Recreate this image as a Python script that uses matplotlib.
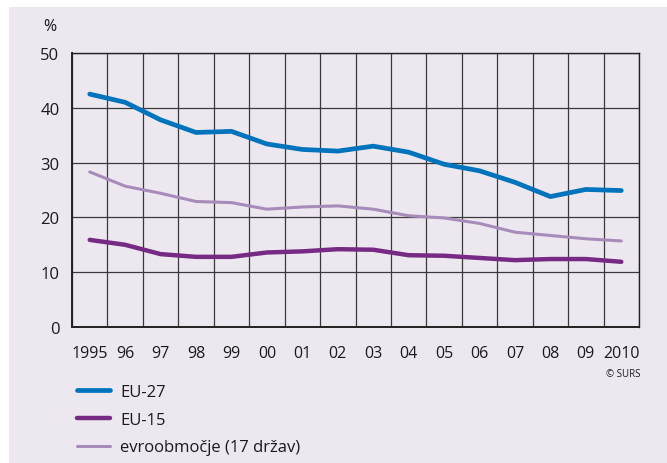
import numpy as np
import matplotlib.pyplot as plt
from matplotlib.patches import Rectangle

# leta in vrednosti (%)
leta = ['1995', '96', '97', '98', '99', '00', '01', '02', '03', '04',
        '05', '06', '07', '08', '09', '2010']
eu27 = [42.5, 41.0, 37.8, 35.5, 35.7, 33.4, 32.4, 32.1, 33.0, 31.9,
        29.7, 28.5, 26.4, 23.8, 25.1, 24.9]
eu15 = [15.9, 15.0, 13.3, 12.8, 12.8, 13.6, 13.8, 14.2, 14.1, 13.1,
        13.0, 12.6, 12.2, 12.4, 12.4, 11.9]
evro = [28.3, 25.7, 24.4, 22.9, 22.7, 21.5, 21.9, 22.1, 21.5, 20.3,
        19.9, 18.9, 17.3, 16.7, 16.1, 15.7]

ozadje = '#ede8f0'
plt.rcParams['font.family'] = ['Open Sans', 'DejaVu Sans']

fig = plt.figure(figsize=(6.67, 4.64), dpi=100, facecolor='white')
fig.patches.append(Rectangle((9 / 667, 0), 1, 456 / 464, transform=fig.transFigure,
                             facecolor=ozadje, edgecolor='none', zorder=-10))

ax = fig.add_axes([72 / 667, 1 - 328 / 464, 567 / 667, 274 / 464])
ax.set_facecolor(ozadje)

x = np.arange(len(leta))
ax.plot(x, eu27, color='#0073bd', lw=3.4, solid_capstyle='round', zorder=3, label='EU-27')
ax.plot(x, eu15, color='#772a83', lw=3.2, solid_capstyle='round', zorder=3, label='EU-15')
ax.plot(x, evro, color='#a78cbb', lw=2.2, solid_capstyle='round', zorder=3,
        label='evroobmočje (17 držav)')

ax.set_xlim(-0.5, len(leta) - 0.5)
ax.set_ylim(0, 50)
ax.set_yticks([0, 10, 20, 30, 40, 50])
ax.set_xticks(x)
ax.set_xticklabels(leta)
ax.set_xticks(np.arange(-0.5, len(leta)), minor=True)

ax.grid(True, which='minor', axis='x', color='#3a3a3a', lw=0.9, zorder=1)
ax.grid(True, which='major', axis='y', color='#3a3a3a', lw=0.9, zorder=1)
ax.tick_params(which='both', length=0)
ax.tick_params(axis='x', pad=13, labelsize=11.5, colors='#1a1a1a')
ax.tick_params(axis='y', pad=9, labelsize=12, colors='#1a1a1a')
for s in ax.spines.values():
    s.set_color('#222222')
    s.set_linewidth(1.0)
ax.spines['left'].set_linewidth(1.4)
ax.spines['bottom'].set_linewidth(1.4)

fig.text(50 / 667, 1 - 27 / 464, '%', fontsize=11.5, ha='center', va='center', color='#1a1a1a')
fig.text(640 / 667, 1 - 375 / 464, '© SURS', fontsize=7, ha='right', va='center', color='#1a1a1a')

leg = fig.legend(loc='upper left', bbox_to_anchor=(62 / 667, 1 - 370 / 464), frameon=False,
                 fontsize=12, handlelength=2.0, handletextpad=0.6, labelspacing=0.7)
for t in leg.get_texts():
    t.set_color('#1a1a1a')

fig.savefig('out.png', dpi=100, facecolor='white')
